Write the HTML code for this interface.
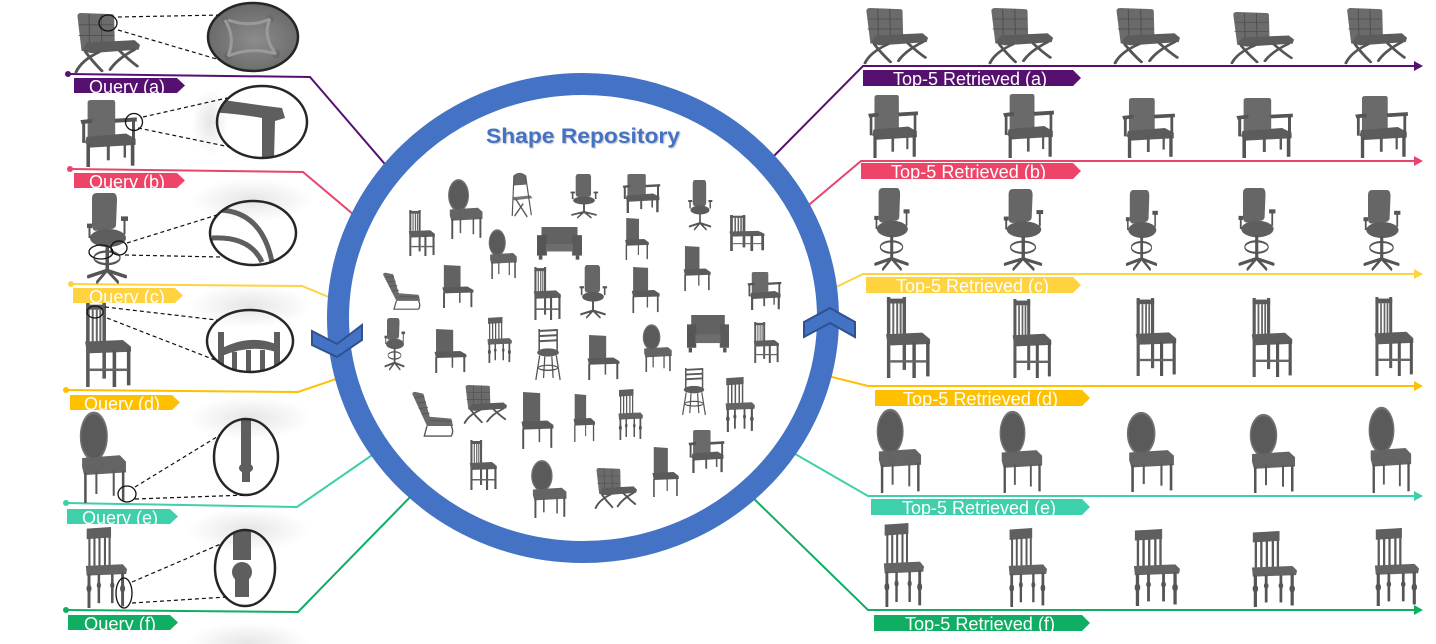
<!DOCTYPE html>
<html><head><meta charset="utf-8"><style>
html,body{margin:0;padding:0;background:#fff;}
svg{display:block;}
</style></head><body>
<svg width="1436" height="644" viewBox="0 0 1436 644" xmlns="http://www.w3.org/2000/svg">
<defs>
<radialGradient id="glow"><stop offset="0" stop-color="#000" stop-opacity="0.10"/><stop offset="1" stop-color="#000" stop-opacity="0"/></radialGradient>
<radialGradient id="tuft" cx="0.5" cy="0.5" r="0.6"><stop offset="0" stop-color="#8c8c8c"/><stop offset="1" stop-color="#5e5e5e"/></radialGradient>
<clipPath id="ca"><ellipse cx="253" cy="37" rx="45" ry="34"/></clipPath>
<clipPath id="cb"><ellipse cx="262" cy="122" rx="45" ry="36"/></clipPath>
<clipPath id="cc"><ellipse cx="253" cy="233" rx="43" ry="32"/></clipPath>
<clipPath id="cd"><ellipse cx="250" cy="341" rx="43" ry="31"/></clipPath>
<clipPath id="ce"><ellipse cx="246" cy="457" rx="32" ry="38"/></clipPath>
<clipPath id="cf"><ellipse cx="245" cy="568" rx="30" ry="38"/></clipPath>

<g id="barc">
 <path d="M8 5 Q8 0 14 0 L58 2 Q62 2 62 6 L63 58 L14 64 Z" fill="#6b6b6b"/>
 <g stroke="#4f4f4f" stroke-width="1.5" fill="none"><path d="M10 20 L61 20 M10 38 L62 38 M25 2 L26 60 M43 2 L44 60"/></g>
 <path d="M22 50 L92 46 L100 54 L98 62 L28 68 L14 64 Z" fill="#5c5c5c"/>
 <g fill="none" stroke="#555" stroke-width="4.5" stroke-linecap="round">
  <path d="M6 100 Q14 80 40 66"/><path d="M20 66 Q30 82 44 98"/>
  <path d="M56 96 Q66 78 92 62"/><path d="M70 64 Q84 80 96 90"/>
 </g>
</g>
<g id="arm">
 <path d="M16 4 Q16 0 22 0 L58 0 Q62 0 62 4 L62 55 L16 58 Z" fill="#6a6a6a"/>
 <path d="M14 55 L80 50 L96 58 L96 67 L20 71 L12 64 Z" fill="#5c5c5c"/>
 <path d="M4 30 L24 28 L24 34 L6 36 Z" fill="#555"/><path d="M60 28 L98 26 L98 32 L62 34Z" fill="#555"/>
 <rect x="7" y="34" width="5" height="30" fill="#555"/><rect x="90" y="30" width="5" height="30" fill="#555"/>
 <rect x="14" y="66" width="6" height="34" fill="#555"/><rect x="88" y="62" width="6" height="36" fill="#555"/>
 <rect x="48" y="62" width="5" height="28" fill="#5a5a5a"/><rect x="76" y="60" width="4" height="26" fill="#5a5a5a"/>
</g>
<g id="draft">
 <path d="M20 6 Q20 0 30 0 L62 0 Q70 0 70 8 L68 36 Q66 40 58 40 L28 42 Q20 42 20 36 Z" fill="#666"/>
 <ellipse cx="52" cy="50" rx="36" ry="10" fill="#5e5e5e"/>
 <rect x="78" y="26" width="14" height="5" fill="#555"/><rect x="83" y="30" width="4" height="16" fill="#555"/>
 <rect x="10" y="34" width="10" height="5" fill="#555"/><rect x="13" y="38" width="4" height="12" fill="#555"/>
 <rect x="47" y="58" width="7" height="28" fill="#555"/>
 <ellipse cx="50" cy="72" rx="26" ry="7" fill="none" stroke="#555" stroke-width="2.5"/>
 <path d="M50 86 L12 93 M50 86 L88 93 M50 86 L30 99 M50 86 L72 99" stroke="#555" stroke-width="4" stroke-linecap="round" fill="none"/>
</g>
<g id="slat">
 <rect x="8" y="0" width="7" height="100" fill="#5a5a5a"/><rect x="40" y="0" width="7" height="90" fill="#5a5a5a"/>
 <rect x="8" y="2" width="39" height="6" fill="#5a5a5a"/>
 <rect x="19" y="8" width="4" height="40" fill="#666"/><rect x="27" y="8" width="4" height="40" fill="#666"/><rect x="34" y="8" width="4" height="40" fill="#666"/>
 <path d="M6 46 L80 44 L96 52 L96 58 L10 60 Z" fill="#5e5e5e"/>
 <rect x="60" y="56" width="7" height="44" fill="#555"/><rect x="88" y="54" width="7" height="44" fill="#555"/>
 <rect x="15" y="78" width="75" height="3" fill="#666"/>
</g>
<g id="oval">
 <ellipse cx="33" cy="26" rx="26" ry="26" fill="#5a5a5a" stroke="#717171" stroke-width="3"/>
 <rect x="28" y="48" width="9" height="5" fill="#5a5a5a"/>
 <path d="M10 50 L84 47 L96 54 L96 66 L14 69 L10 60Z" fill="#646464"/>
 <rect x="14" y="66" width="5" height="34" fill="#555"/><rect x="36" y="64" width="4" height="26" fill="#5a5a5a"/>
 <rect x="70" y="64" width="4" height="28" fill="#5a5a5a"/><rect x="88" y="64" width="5" height="34" fill="#555"/>
</g>
<g id="spin">
 <path d="M4 2 L62 0 L62 13 L4 15Z" fill="#5f5f5f"/>
 <rect x="8" y="13" width="5" height="38" fill="#5a5a5a"/><rect x="20" y="13" width="5" height="38" fill="#5a5a5a"/>
 <rect x="32" y="13" width="5" height="38" fill="#5a5a5a"/><rect x="45" y="13" width="5" height="38" fill="#5a5a5a"/>
 <rect x="56" y="13" width="5" height="38" fill="#5a5a5a"/>
 <path d="M2 48 L90 46 L100 52 L98 58 L4 60Z" fill="#646464"/>
 <rect x="6" y="58" width="7" height="42" fill="#555"/><rect x="30" y="58" width="6" height="36" fill="#555"/>
 <rect x="62" y="58" width="6" height="36" fill="#555"/><rect x="86" y="56" width="7" height="42" fill="#555"/>
 <g fill="#555"><ellipse cx="9.5" cy="76" rx="6" ry="5"/><ellipse cx="33" cy="72" rx="5" ry="4"/><ellipse cx="65" cy="72" rx="5" ry="4"/><ellipse cx="89.5" cy="76" rx="6" ry="5"/></g>
</g>
<g id="office">
 <rect x="24" y="0" width="48" height="52" rx="7" fill="#666"/>
 <ellipse cx="50" cy="60" rx="34" ry="9" fill="#5b5b5b"/>
 <rect x="8" y="40" width="14" height="4" fill="#555"/><rect x="12" y="43" width="5" height="14" fill="#555"/>
 <rect x="80" y="40" width="14" height="4" fill="#555"/><rect x="84" y="43" width="5" height="14" fill="#555"/>
 <rect x="47" y="68" width="6" height="18" fill="#555"/>
 <path d="M50 86 L12 93 M50 86 L88 93 M50 86 L30 99 M50 86 L72 99" stroke="#555" stroke-width="4" stroke-linecap="round" fill="none"/>
</g>
<g id="pars">
 <path d="M18 0 L62 2 L62 56 L18 56Z" fill="#626262"/>
 <path d="M14 52 L80 50 L96 58 L96 64 L18 66Z" fill="#5a5a5a"/>
 <rect x="16" y="64" width="5" height="36" fill="#555"/><rect x="88" y="62" width="5" height="36" fill="#555"/>
 <rect x="58" y="60" width="4" height="28" fill="#5a5a5a"/>
</g>
<g id="fold">
 <path d="M22 8 Q44 -4 66 8 L66 28 L22 30Z" fill="#666"/>
 <path d="M18 56 L80 52 L88 58 L24 63Z" fill="#777"/>
 <path d="M24 8 L18 98 M64 8 L84 96 M30 60 L70 100 M26 98 L56 70" stroke="#555" stroke-width="4" fill="none"/>
</g>
<g id="stool">
 <path d="M20 4 L80 2 M20 14 L80 12 M20 24 L80 22" stroke="#5a5a5a" stroke-width="4"/>
 <rect x="20" y="0" width="5" height="44" fill="#5a5a5a"/><rect x="76" y="0" width="5" height="44" fill="#5a5a5a"/>
 <ellipse cx="50" cy="46" rx="34" ry="8" fill="#5e5e5e"/>
 <path d="M24 52 L12 100 M76 52 L88 100 M40 54 L36 96 M62 54 L66 96" stroke="#555" stroke-width="4" fill="none"/>
 <ellipse cx="50" cy="76" rx="30" ry="5" fill="none" stroke="#555" stroke-width="2.5"/>
</g>
<g id="lounge">
 <path d="M8 8 Q6 2 14 2 L32 6 L46 56 L94 60 L98 76 L40 76 Z" fill="#6a6a6a"/>
 <path d="M14 14 L34 12 M18 26 L38 24 M22 38 L42 36 M28 50 L46 48 M48 64 L96 66" stroke="#555" stroke-width="2" fill="none"/>
 <path d="M40 76 L34 98 L94 98 Q100 88 94 76" stroke="#555" stroke-width="3" fill="none"/>
</g>
<g id="box">
 <rect x="10" y="0" width="80" height="52" fill="#626262"/>
 <rect x="0" y="24" width="22" height="60" fill="#555"/><rect x="78" y="24" width="22" height="60" fill="#5a5a5a"/>
 <rect x="20" y="50" width="60" height="22" fill="#6d6d6d"/>
 <rect x="4" y="84" width="8" height="12" fill="#555"/><rect x="86" y="84" width="8" height="12" fill="#555"/>
</g>
</defs>

<rect width="1436" height="644" fill="#fff"/>

<!-- glows -->
<g fill="url(#glow)">
<ellipse cx="252" cy="200" rx="62" ry="22"/>
<ellipse cx="250" cy="306" rx="62" ry="22"/>
<ellipse cx="250" cy="418" rx="62" ry="22"/>
<ellipse cx="248" cy="530" rx="62" ry="22"/>
<ellipse cx="248" cy="644" rx="62" ry="22"/>
<ellipse cx="210" cy="122" rx="18" ry="34"/>
</g>

<!-- left connectors -->
<g fill="none" stroke-width="2">
<path d="M68 74 L310 77 L390 170" stroke="#561170"/>
<path d="M70 169 L303 172 L360 220" stroke="#E9446A"/>
<path d="M71 284 L302 286 L336 300" stroke="#FFD23F"/>
<path d="M66 390 L298 392 L342 377" stroke="#FFC000"/>
<path d="M66 503 L297 507 L378 451" stroke="#3ECFAB"/>
<path d="M66 610 L298 612 L416 491" stroke="#10AE63"/>
</g>
<g>
<circle cx="68" cy="74" r="3" fill="#561170"/>
<circle cx="70" cy="169" r="3" fill="#E9446A"/>
<circle cx="71" cy="284" r="3" fill="#FFD23F"/>
<circle cx="66" cy="390" r="3" fill="#FFC000"/>
<circle cx="66" cy="503" r="3" fill="#3ECFAB"/>
<circle cx="66" cy="610" r="3" fill="#10AE63"/>
</g>

<!-- right connectors -->
<g fill="none" stroke-width="2">
<path d="M768 162 L863 66 L1416 66" stroke="#561170"/>
<path d="M804 209 L861 161 L1416 161" stroke="#E9446A"/>
<path d="M830 290 L863 274 L1416 274" stroke="#FFD23F"/>
<path d="M824 375 L868 386 L1416 386" stroke="#FFC000"/>
<path d="M790 451 L868 496 L1416 496" stroke="#3ECFAB"/>
<path d="M748 493 L868 610 L1416 610" stroke="#10AE63"/>
</g>
<polygon points="1414,61 1423,66 1414,71" fill="#561170"/>
<polygon points="1414,156 1423,161 1414,166" fill="#E9446A"/>
<polygon points="1414,269 1423,274 1414,279" fill="#FFD23F"/>
<polygon points="1414,381 1423,386 1414,391" fill="#FFC000"/>
<polygon points="1414,491 1423,496 1414,501" fill="#3ECFAB"/>
<polygon points="1414,605 1423,610 1414,615" fill="#10AE63"/>

<!-- left labels -->
<g font-family="'Liberation Sans', sans-serif" font-size="18" fill="#fff">
<svg x="74" y="78" width="112" height="15" overflow="hidden"><polygon points="0,0 103,0 111,7.5 103,15 0,15" fill="#561170"/><text x="15" y="15" textLength="76" lengthAdjust="spacingAndGlyphs">Query (a)</text></svg>
<svg x="74" y="173" width="112" height="15" overflow="hidden"><polygon points="0,0 103,0 111,7.5 103,15 0,15" fill="#EE4468"/><text x="15" y="15" textLength="76" lengthAdjust="spacingAndGlyphs">Query (b)</text></svg>
<svg x="73" y="288" width="111" height="15" overflow="hidden"><polygon points="0,0 102,0 110,7.5 102,15 0,15" fill="#FFD23F"/><text x="16" y="15" textLength="76" lengthAdjust="spacingAndGlyphs">Query (c)</text></svg>
<svg x="70" y="395" width="111" height="15" overflow="hidden"><polygon points="0,0 102,0 110,7.5 102,15 0,15" fill="#FFC000"/><text x="14" y="15" textLength="76" lengthAdjust="spacingAndGlyphs">Query (d)</text></svg>
<svg x="67" y="509" width="112" height="15" overflow="hidden"><polygon points="0,0 103,0 111,7.5 103,15 0,15" fill="#3ECFAB"/><text x="15" y="15" textLength="76" lengthAdjust="spacingAndGlyphs">Query (e)</text></svg>
<svg x="68" y="615" width="111" height="15" overflow="hidden"><polygon points="0,0 102,0 110,7.5 102,15 0,15" fill="#10AE63"/><text x="16" y="15" textLength="72" lengthAdjust="spacingAndGlyphs">Query (f)</text></svg>
</g>

<!-- right labels -->
<g font-family="'Liberation Sans Narrow', 'Liberation Sans', sans-serif" font-size="18" fill="#fff">
<svg x="863" y="70" width="219" height="16" overflow="hidden"><polygon points="0,0 210,0 218,8 210,16 0,16" fill="#561170"/><text x="30" y="15" textLength="154" lengthAdjust="spacingAndGlyphs">Top-5 Retrieved (a)</text></svg>
<svg x="861" y="163" width="221" height="16" overflow="hidden"><polygon points="0,0 212,0 220,8 212,16 0,16" fill="#EE4468"/><text x="30" y="15" textLength="155" lengthAdjust="spacingAndGlyphs">Top-5 Retrieved (b)</text></svg>
<svg x="866" y="277" width="216" height="16" overflow="hidden"><polygon points="0,0 207,0 215,8 207,16 0,16" fill="#FFD23F"/><text x="30" y="15" textLength="153" lengthAdjust="spacingAndGlyphs">Top-5 Retrieved (c)</text></svg>
<svg x="875" y="390" width="216" height="16" overflow="hidden"><polygon points="0,0 207,0 215,8 207,16 0,16" fill="#FFC000"/><text x="28" y="15" textLength="155" lengthAdjust="spacingAndGlyphs">Top-5 Retrieved (d)</text></svg>
<svg x="871" y="499" width="220" height="16" overflow="hidden"><polygon points="0,0 211,0 219,8 211,16 0,16" fill="#3ECFAB"/><text x="31" y="15" textLength="154" lengthAdjust="spacingAndGlyphs">Top-5 Retrieved (e)</text></svg>
<svg x="874" y="615" width="217" height="16" overflow="hidden"><polygon points="0,0 208,0 216,8 208,16 0,16" fill="#10AE63"/><text x="31" y="15" textLength="150" lengthAdjust="spacingAndGlyphs">Top-5 Retrieved (f)</text></svg>
</g>

<!-- query chairs -->
<use href="#barc" transform="translate(72 13) scale(.68 .59)"/>
<use href="#arm" transform="translate(78 100) scale(.60 .67)"/>
<use href="#draft" transform="translate(82 193) scale(.50 .90)"/>
<use href="#slat" transform="translate(82 303) scale(.51 .84)"/>
<use href="#oval" transform="translate(77 413) scale(.51 .90)"/>
<use href="#spin" transform="translate(85 527) scale(.42 .81)"/>

<!-- lens contents -->
<g clip-path="url(#ca)"><rect x="200" y="0" width="110" height="80" fill="url(#tuft)"/>
 <g fill="#6a6a6a"><circle cx="225" cy="20" r="4"/><circle cx="270" cy="19" r="4"/><circle cx="228" cy="56" r="4"/><circle cx="276" cy="54" r="4"/></g>
 <path d="M228 20 Q250 28 270 19 M228 56 Q252 46 276 54 M225 20 Q236 38 228 56 M270 19 Q262 36 276 54" stroke="#9a9a9a" stroke-width="3" fill="none"/></g>
<g clip-path="url(#cb)"><path d="M210 98 Q250 104 282 108 L285 118 L275 121 L274 160 L262 160 L262 118 Q240 114 210 112 Z" fill="#5e5e5e"/></g>
<g clip-path="url(#cc)" fill="none" stroke="#5e5e5e" stroke-width="5"><path d="M220 210 Q262 212 272 262"/><path d="M212 238 Q250 236 262 262"/></g>
<g clip-path="url(#cd)" fill="#5e5e5e"><rect x="218" y="332" width="6" height="45"/><rect x="274" y="332" width="6" height="45"/>
 <path d="M222 348 Q250 334 276 344 L276 352 Q250 344 222 356 Z"/><rect x="232" y="352" width="5" height="25"/><rect x="246" y="350" width="5" height="25"/><rect x="260" y="350" width="5" height="25"/></g>
<g clip-path="url(#ce)" fill="#5e5e5e"><rect x="241" y="410" width="10" height="56"/><ellipse cx="246" cy="468" rx="7" ry="5"/><rect x="242" y="470" width="8" height="12"/></g>
<g clip-path="url(#cf)" fill="#5e5e5e"><rect x="233" y="520" width="18" height="40"/><ellipse cx="242" cy="572" rx="10" ry="10"/><rect x="235" y="575" width="14" height="22"/></g>

<!-- lens rims -->
<g fill="none" stroke="#262626" stroke-width="2.5">
<ellipse cx="253" cy="37" rx="45" ry="34"/>
<ellipse cx="262" cy="122" rx="45" ry="36"/>
<ellipse cx="253" cy="233" rx="43" ry="32"/>
<ellipse cx="250" cy="341" rx="43" ry="31"/>
<ellipse cx="246" cy="457" rx="32" ry="38"/>
<ellipse cx="245" cy="568" rx="30" ry="38"/>
</g>
<!-- small circles -->
<g fill="none" stroke="#111" stroke-width="1.3">
<ellipse cx="108" cy="23" rx="9" ry="8"/>
<circle cx="134" cy="122" r="8.5"/>
<ellipse cx="101" cy="252" rx="12" ry="7"/>
<ellipse cx="119" cy="248" rx="8" ry="7"/>
<ellipse cx="95" cy="312" rx="8" ry="6"/>
<ellipse cx="127" cy="494" rx="9" ry="8"/>
<ellipse cx="124" cy="593" rx="8" ry="15"/>
</g>
<!-- dashed -->
<g stroke="#111" stroke-width="1.2" stroke-dasharray="4 3" fill="none">
<path d="M118 17 L222 15 M118 30 L220 60"/>
<path d="M143 117 L227 98 M138 128 L230 147"/>
<path d="M127 243 L217 215 M125 255 L220 257"/>
<path d="M105 307 L217 320 M107 318 L215 360"/>
<path d="M135 487 L220 435 M135 499 L247 495"/>
<path d="M132 582 L223 543 M132 603 L227 597"/>
</g>

<!-- right chairs -->
<use href="#barc" transform="translate(861 8) scale(.67 .55)"/>
<use href="#barc" transform="translate(986 8) scale(.67 .55)"/>
<use href="#barc" transform="translate(1111 8) scale(.69 .55)"/>
<use href="#barc" transform="translate(1228 12) scale(.66 .51)"/>
<use href="#barc" transform="translate(1342 8) scale(.65 .55)"/>

<use href="#arm" transform="translate(866 95) scale(.53 .63)"/>
<use href="#arm" transform="translate(1001 94) scale(.54 .64)"/>
<use href="#arm" transform="translate(1120 98) scale(.56 .60)"/>
<use href="#arm" transform="translate(1234 98) scale(.60 .60)"/>
<use href="#arm" transform="translate(1353 96) scale(.56 .62)"/>

<use href="#draft" transform="translate(870 188) scale(.43 .82)"/>
<use href="#draft" transform="translate(999 189) scale(.48 .81)"/>
<use href="#draft" transform="translate(1122 190) scale(.39 .80)"/>
<use href="#draft" transform="translate(1234 188) scale(.45 .82)"/>
<use href="#draft" transform="translate(1359 190) scale(.45 .80)"/>

<use href="#slat" transform="translate(883 297) scale(.49 .81)"/>
<use href="#slat" transform="translate(1010 299) scale(.43 .79)"/>
<use href="#slat" transform="translate(1133 298) scale(.45 .78)"/>
<use href="#slat" transform="translate(1249 298) scale(.45 .79)"/>
<use href="#slat" transform="translate(1372 297) scale(.43 .79)"/>

<use href="#oval" transform="translate(874 410) scale(.49 .83)"/>
<use href="#oval" transform="translate(997 412) scale(.47 .81)"/>
<use href="#oval" transform="translate(1124 413) scale(.52 .79)"/>
<use href="#oval" transform="translate(1247 415) scale(.50 .78)"/>
<use href="#oval" transform="translate(1366 408) scale(.47 .85)"/>

<use href="#spin" transform="translate(883 523) scale(.41 .84)"/>
<use href="#spin" transform="translate(1008 528) scale(.39 .79)"/>
<use href="#spin" transform="translate(1133 529) scale(.47 .77)"/>
<use href="#spin" transform="translate(1251 531) scale(.46 .76)"/>
<use href="#spin" transform="translate(1374 528) scale(.45 .78)"/>

<!-- ring -->
<ellipse cx="583" cy="318" rx="245" ry="234" fill="none" stroke="#4472C4" stroke-width="22"/>
<polygon points="312,331 337,344 362,325 362,340 337,357 312,345" fill="#4472C4" stroke="#2F528F" stroke-width="2"/>
<polygon points="804,322 830,308 855,322 855,337 830,323 804,337" fill="#4472C4" stroke="#2F528F" stroke-width="2"/>

<text x="583" y="143" text-anchor="middle" font-family="'Liberation Sans', sans-serif" font-weight="bold" font-size="21" fill="#4472C4" textLength="194" lengthAdjust="spacingAndGlyphs" style="text-shadow:1px 1px 1px rgba(0,0,0,0.25)">Shape Repository</text>

<!-- repository chairs -->
<use href="#oval" transform="translate(446 180) scale(.38 .59)"/>
<use href="#fold" transform="translate(507 172) scale(.29 .45)"/>
<use href="#office" transform="translate(568 174) scale(.32 .44)"/>
<use href="#arm" transform="translate(621 174) scale(.40 .39)"/>
<use href="#office" transform="translate(686 180) scale(.28 .50)"/>
<use href="#slat" transform="translate(407 210) scale(.29 .46)"/>
<use href="#box" transform="translate(537 227) scale(.45 .34)"/>
<use href="#oval" transform="translate(487 230) scale(.31 .49)"/>
<use href="#pars" transform="translate(621 218) scale(.29 .42)"/>
<use href="#slat" transform="translate(727 215) scale(.39 .36)"/>
<use href="#lounge" transform="translate(380 272) scale(.41 .38)"/>
<use href="#pars" transform="translate(437 265) scale(.38 .43)"/>
<use href="#slat" transform="translate(532 267) scale(.30 .53)"/>
<use href="#office" transform="translate(577 265) scale(.32 .53)"/>
<use href="#pars" transform="translate(627 267) scale(.34 .46)"/>
<use href="#pars" transform="translate(679 246) scale(.33 .45)"/>
<use href="#arm" transform="translate(746 272) scale(.36 .38)"/>
<use href="#draft" transform="translate(382 318) scale(.25 .52)"/>
<use href="#pars" transform="translate(429 329) scale(.39 .44)"/>
<use href="#spin" transform="translate(487 317) scale(.25 .46)"/>
<use href="#stool" transform="translate(532 329) scale(.32 .51)"/>
<use href="#pars" transform="translate(582 335) scale(.39 .45)"/>
<use href="#oval" transform="translate(641 325) scale(.32 .47)"/>
<use href="#box" transform="translate(687 315) scale(.42 .39)"/>
<use href="#slat" transform="translate(752 322) scale(.28 .41)"/>
<use href="#lounge" transform="translate(409 391) scale(.45 .46)"/>
<use href="#barc" transform="translate(462 385) scale(.45 .38)"/>
<use href="#pars" transform="translate(516 392) scale(.39 .57)"/>
<use href="#pars" transform="translate(570 394) scale(.26 .48)"/>
<use href="#spin" transform="translate(618 389) scale(.25 .51)"/>
<use href="#stool" transform="translate(679 368) scale(.30 .47)"/>
<use href="#spin" transform="translate(725 377) scale(.30 .55)"/>
<use href="#slat" transform="translate(468 440) scale(.30 .50)"/>
<use href="#oval" transform="translate(529 461) scale(.39 .57)"/>
<use href="#barc" transform="translate(593 468) scale(.44 .40)"/>
<use href="#pars" transform="translate(648 447) scale(.32 .50)"/>
<use href="#arm" transform="translate(687 430) scale(.38 .43)"/>
</svg>
</body></html>
